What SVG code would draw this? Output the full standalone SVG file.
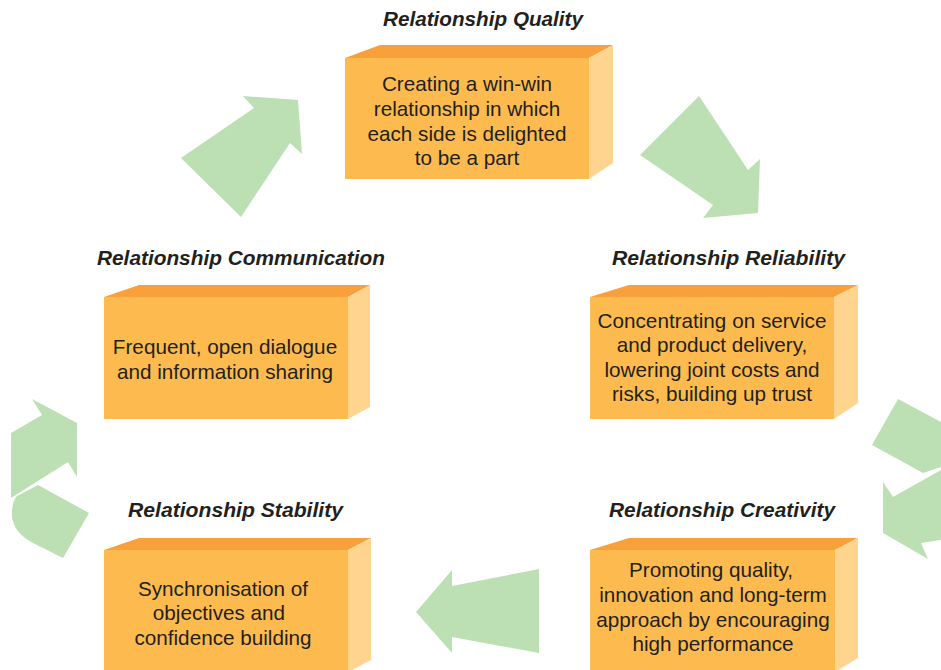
<svg xmlns="http://www.w3.org/2000/svg" width="941" height="670" viewBox="0 0 941 670">
<style>
.front{fill:#FDBB4F}
.top{fill:#F7A03C}
.side{fill:#FED48E}
.arrow{fill:#BDDFB4}
.title{font-family:"Liberation Sans",Arial,sans-serif;font-size:20px;font-weight:bold;font-style:italic;fill:#231F20}
.body{font-family:"Liberation Sans",Arial,sans-serif;font-size:20.7px;fill:#231F20;text-anchor:middle}
</style>
<rect width="941" height="670" fill="#FFFFFF"/>
<g id="connectors">
<polygon class="arrow" points="181,158 254,108 243,96 298,100 302,154 290,143 241,217"/>
<polygon class="arrow" points="699,96 748,170 760,159 758,213 703,218 713,205 640,155"/>
<polygon class="arrow" points="898,399 941,422 941,467 923,473 872,445"/>
<polygon class="arrow" points="883,482 893,497 941,470 941,540 921,543 928,559 883,533"/>
<polygon class="arrow" points="416,612 452,570 452,586 539,569 539,653 452,637 452,653"/>
<path class="arrow" d="M38,485 L89,513 L63,558 L33,543 Q10,531 12,510 Q13,500 17,496 Z"/>
<polygon class="arrow" points="32,399 77,423 77,477 68,462 11,498 11,433 42,415"/>
</g>
<g id="node-quality">
<text class="title" x="383" y="26" textLength="200" lengthAdjust="spacingAndGlyphs">Relationship Quality</text>
<rect class="front" x="345" y="58" width="244" height="121"/>
<polygon class="top" points="345,58 380,45 613,45 589,58"/>
<polygon class="side" points="589,58 613,45 613,163 589,179"/>
<text class="body" x="467" y="91">Creating a win-win</text>
<text class="body" x="467" y="116">relationship in which</text>
<text class="body" x="467" y="141">each side is delighted</text>
<text class="body" x="467" y="165">to be a part</text>
</g>
<g id="node-communication">
<text class="title" x="97" y="265" textLength="288" lengthAdjust="spacingAndGlyphs">Relationship Communication</text>
<rect class="front" x="104" y="297" width="244" height="122"/>
<polygon class="top" points="104,297 139,285 370,285 348,297"/>
<polygon class="side" points="348,297 370,285 370,407 348,419"/>
<text class="body" x="225" y="354">Frequent, open dialogue</text>
<text class="body" x="225" y="379">and information sharing</text>
</g>
<g id="node-reliability">
<text class="title" x="612" y="265" textLength="233" lengthAdjust="spacingAndGlyphs">Relationship Reliability</text>
<rect class="front" x="590" y="297" width="244" height="122"/>
<polygon class="top" points="590,297 629,285 858,285 834,297"/>
<polygon class="side" points="834,297 858,285 858,403 834,419"/>
<text class="body" x="712" y="328">Concentrating on service</text>
<text class="body" x="712" y="352">and product delivery,</text>
<text class="body" x="712" y="377">lowering joint costs and</text>
<text class="body" x="712" y="401">risks, building up trust</text>
</g>
<g id="node-stability">
<text class="title" x="128" y="517" textLength="215" lengthAdjust="spacingAndGlyphs">Relationship Stability</text>
<rect class="front" x="104" y="550" width="244" height="125"/>
<polygon class="top" points="104,550 139,538 371,538 348,550"/>
<polygon class="side" points="348,550 371,538 371,660 348,672"/>
<text class="body" x="223" y="596">Synchronisation of</text>
<text class="body" x="219" y="620">objectives and</text>
<text class="body" x="223" y="645">confidence building</text>
</g>
<g id="node-creativity">
<text class="title" x="609" y="517" textLength="226" lengthAdjust="spacingAndGlyphs">Relationship Creativity</text>
<rect class="front" x="590" y="550" width="245" height="125"/>
<polygon class="top" points="590,550 629,538 858,538 835,550"/>
<polygon class="side" points="835,550 858,538 858,658 835,672"/>
<text class="body" x="711" y="577">Promoting quality,</text>
<text class="body" x="713" y="602">innovation and long-term</text>
<text class="body" x="713" y="627">approach by encouraging</text>
<text class="body" x="713" y="651">high performance</text>
</g>
</svg>
